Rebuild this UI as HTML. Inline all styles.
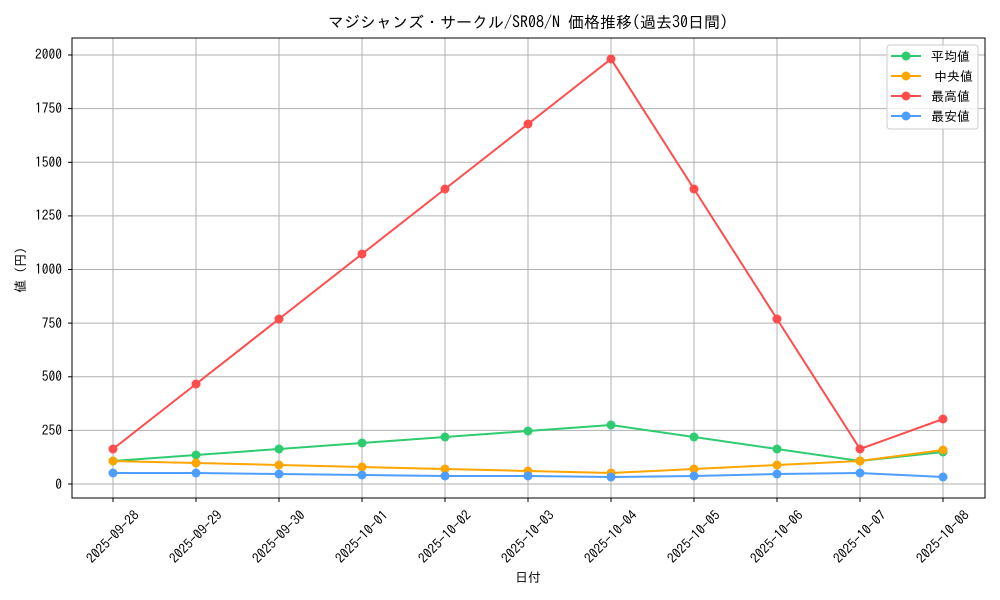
<!DOCTYPE html>
<html><head><meta charset="utf-8"><style>body{margin:0;background:#fff}svg{display:block}text{font-family:"IPAGothic","Noto Sans CJK JP",sans-serif;fill:#000}</style></head><body>
<svg width="1000" height="600" xmlns="http://www.w3.org/2000/svg">
<rect width="1000" height="600" fill="#fff"/>
<g stroke="#b0b0b0" stroke-width="1">
<line x1="113" y1="38" x2="113" y2="498"/><line x1="196" y1="38" x2="196" y2="498"/><line x1="279" y1="38" x2="279" y2="498"/><line x1="362" y1="38" x2="362" y2="498"/><line x1="445" y1="38" x2="445" y2="498"/><line x1="528" y1="38" x2="528" y2="498"/><line x1="611" y1="38" x2="611" y2="498"/><line x1="694" y1="38" x2="694" y2="498"/><line x1="777" y1="38" x2="777" y2="498"/><line x1="860" y1="38" x2="860" y2="498"/><line x1="943" y1="38" x2="943" y2="498"/>
<line x1="72" y1="484" x2="985" y2="484"/><line x1="72" y1="430.4" x2="985" y2="430.4"/><line x1="72" y1="376.8" x2="985" y2="376.8"/><line x1="72" y1="323.1" x2="985" y2="323.1"/><line x1="72" y1="269.5" x2="985" y2="269.5"/><line x1="72" y1="215.9" x2="985" y2="215.9"/><line x1="72" y1="162.3" x2="985" y2="162.3"/><line x1="72" y1="108.6" x2="985" y2="108.6"/><line x1="72" y1="55" x2="985" y2="55"/>
</g>
<rect x="72" y="38" width="913" height="460" fill="none" stroke="#000" stroke-width="1"/>
<g stroke="#000"><line x1="68" y1="484" x2="72" y2="484"/><line x1="68" y1="430.4" x2="72" y2="430.4"/><line x1="68" y1="376.8" x2="72" y2="376.8"/><line x1="68" y1="323.1" x2="72" y2="323.1"/><line x1="68" y1="269.5" x2="72" y2="269.5"/><line x1="68" y1="215.9" x2="72" y2="215.9"/><line x1="68" y1="162.3" x2="72" y2="162.3"/><line x1="68" y1="108.6" x2="72" y2="108.6"/><line x1="68" y1="55" x2="72" y2="55"/>
<line x1="113" y1="498" x2="113" y2="502"/><line x1="196" y1="498" x2="196" y2="502"/><line x1="279" y1="498" x2="279" y2="502"/><line x1="362" y1="498" x2="362" y2="502"/><line x1="445" y1="498" x2="445" y2="502"/><line x1="528" y1="498" x2="528" y2="502"/><line x1="611" y1="498" x2="611" y2="502"/><line x1="694" y1="498" x2="694" y2="502"/><line x1="777" y1="498" x2="777" y2="502"/><line x1="860" y1="498" x2="860" y2="502"/><line x1="943" y1="498" x2="943" y2="502"/></g>
<g font-size="13.5" text-anchor="end"><text x="62" y="489">0</text><text x="62" y="435">250</text><text x="62" y="381">500</text><text x="62" y="328">750</text><text x="62" y="274">1000</text><text x="62" y="220">1250</text><text x="62" y="167">1500</text><text x="62" y="113">1750</text><text x="62" y="59">2000</text></g>
<g font-size="13.5" text-anchor="middle">
<text transform="translate(116,540) rotate(-45)">2025-09-28</text><text transform="translate(199,540) rotate(-45)">2025-09-29</text><text transform="translate(282,540) rotate(-45)">2025-09-30</text><text transform="translate(365,540) rotate(-45)">2025-10-01</text><text transform="translate(448,540) rotate(-45)">2025-10-02</text><text transform="translate(531,540) rotate(-45)">2025-10-03</text><text transform="translate(614,540) rotate(-45)">2025-10-04</text><text transform="translate(697,540) rotate(-45)">2025-10-05</text><text transform="translate(780,540) rotate(-45)">2025-10-06</text><text transform="translate(863,540) rotate(-45)">2025-10-07</text><text transform="translate(946,540) rotate(-45)">2025-10-08</text>
</g>
<text x="528" y="582" font-size="13" text-anchor="middle">日付</text>
<text transform="translate(25,270) rotate(-90)" font-size="13" text-anchor="middle">値 (円)</text>
<text x="528" y="28" font-size="16" text-anchor="middle">マジシャンズ・サークル/SR08/N 価格推移(過去30日間)</text>
<g fill="none" stroke-width="2">
<polyline stroke="#2ecc71" points="113,461 196,455 279,449 362,443 445,437 528,431 611,425 694,437 777,449 860,461 943,452"/>
<polyline stroke="#ffa500" points="113,461 196,463 279,465 362,467 445,469 528,471 611,473 694,469 777,465 860,461 943,450"/>
<polyline stroke="#ff4d4d" points="113,449 196,384 279,319 362,254 445,189 528,124 611,59 694,189 777,319 860,449 943,419"/>
<polyline stroke="#4d9eff" points="113,473 196,473 279,474 362,475 445,476 528,476 611,477 694,476 777,474 860,473 943,477"/>
</g>
<g fill="#2ecc71"><circle cx="113" cy="461" r="4.5"/><circle cx="196" cy="455" r="4.5"/><circle cx="279" cy="449" r="4.5"/><circle cx="362" cy="443" r="4.5"/><circle cx="445" cy="437" r="4.5"/><circle cx="528" cy="431" r="4.5"/><circle cx="611" cy="425" r="4.5"/><circle cx="694" cy="437" r="4.5"/><circle cx="777" cy="449" r="4.5"/><circle cx="860" cy="461" r="4.5"/><circle cx="943" cy="452" r="4.5"/></g>
<g fill="#ffa500"><circle cx="113" cy="461" r="4.5"/><circle cx="196" cy="463" r="4.5"/><circle cx="279" cy="465" r="4.5"/><circle cx="362" cy="467" r="4.5"/><circle cx="445" cy="469" r="4.5"/><circle cx="528" cy="471" r="4.5"/><circle cx="611" cy="473" r="4.5"/><circle cx="694" cy="469" r="4.5"/><circle cx="777" cy="465" r="4.5"/><circle cx="860" cy="461" r="4.5"/><circle cx="943" cy="450" r="4.5"/></g>
<g fill="#ff4d4d"><circle cx="113" cy="449" r="4.5"/><circle cx="196" cy="384" r="4.5"/><circle cx="279" cy="319" r="4.5"/><circle cx="362" cy="254" r="4.5"/><circle cx="445" cy="189" r="4.5"/><circle cx="528" cy="124" r="4.5"/><circle cx="611" cy="59" r="4.5"/><circle cx="694" cy="189" r="4.5"/><circle cx="777" cy="319" r="4.5"/><circle cx="860" cy="449" r="4.5"/><circle cx="943" cy="419" r="4.5"/></g>
<g fill="#4d9eff"><circle cx="113" cy="473" r="4.5"/><circle cx="196" cy="473" r="4.5"/><circle cx="279" cy="474" r="4.5"/><circle cx="362" cy="475" r="4.5"/><circle cx="445" cy="476" r="4.5"/><circle cx="528" cy="476" r="4.5"/><circle cx="611" cy="477" r="4.5"/><circle cx="694" cy="476" r="4.5"/><circle cx="777" cy="474" r="4.5"/><circle cx="860" cy="473" r="4.5"/><circle cx="943" cy="477" r="4.5"/></g>
<rect x="887" y="45" width="91" height="84" rx="3" fill="#fff" fill-opacity="0.8" stroke="#ccc"/>
<g stroke-width="2"><line x1="891" y1="56" x2="921" y2="56" stroke="#2ecc71"/><line x1="891" y1="76" x2="921" y2="76" stroke="#ffa500"/><line x1="891" y1="96" x2="921" y2="96" stroke="#ff4d4d"/><line x1="891" y1="116" x2="921" y2="116" stroke="#4d9eff"/></g>
<circle cx="906" cy="56" r="4.5" fill="#2ecc71"/><circle cx="906" cy="76" r="4.5" fill="#ffa500"/><circle cx="906" cy="96" r="4.5" fill="#ff4d4d"/><circle cx="906" cy="116" r="4.5" fill="#4d9eff"/>
<g font-size="13"><text x="931" y="61">平均値</text><text x="934" y="81">中央値</text><text x="931" y="101">最高値</text><text x="931" y="121">最安値</text></g>
</svg>
</body></html>
